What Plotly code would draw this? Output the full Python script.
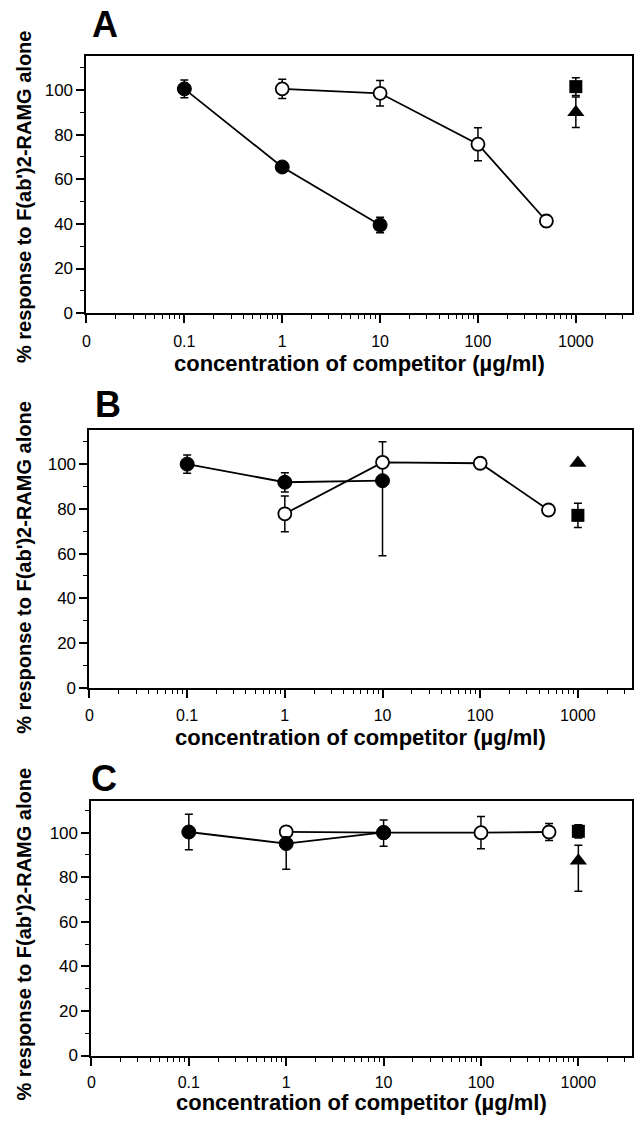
import plotly.graph_objects as go

W, H = 634, 1123

# ---------------- data ----------------
filled_x = [0.1, 1, 10]
open_x = [1, 10, 100, 500]
ctrl_x = [1000]

# Panel A
A_filled_y = [100.5, 65.5, 39.5]
A_filled_err = [4.0, 1.5, 3.5]
A_open_y = [100.5, 98.5, 75.7, 41.3]
A_open_err = [4.3, 5.7, 7.4, 2.5]
A_square_y = [101.5]
A_square_err = [4.0]
A_triangle_y = [90.0]
A_triangle_err = [6.8]

# Panel B
B_filled_y = [100.0, 91.9, 92.6]
B_filled_err_plus = [4.1, 4.3, 2.0]
B_filled_err_minus = [4.1, 4.3, 33.5]
B_open_y = [77.8, 100.8, 100.4, 79.5]
B_open_err = [8.0, 9.2, 1.5, 1.5]
B_square_y = [77.1]
B_square_err = [5.4]
B_triangle_y = [100.5]
B_triangle_err = [0.0]

# Panel C
C_filled_y = [100.3, 95.1, 100.1]
C_filled_err_plus = [8.0, 3.0, 5.6]
C_filled_err_minus = [8.0, 11.5, 6.2]
C_open_y = [100.4, 100.0, 100.0, 100.3]
C_open_err = [0.0, 0.0, 7.2, 3.8]
C_square_y = [100.6]
C_square_err = [3.0]
C_triangle_y = [87.4]
C_triangle_err_plus = [7.0]
C_triangle_err_minus = [13.7]

x_tickvals = [0.01, 0.1, 1, 10, 100, 1000]
x_ticktext = ["0", "0.1", "1", "10", "100", "1000"]
y_tickvals = [0, 20, 40, 60, 80, 100]
y_minor = [10, 30, 50, 70, 90, 110]
x_minor = [m * d for d in [0.01, 0.1, 1, 10, 100] for m in range(2, 10)] + [2000, 3000]

panel_labels = ["A", "B", "C"]
x_title = "concentration of competitor (\u00b5g/ml)"
y_title = "% response to F(ab')2-RAMG alone"

# ---------------- layout geometry (pixels) ----------------
geom = [
    dict(l=83, r=632, t=57, b=316, ymax=115.0, xmax=3.574, lab=(102, 25), yt=198, xt=367, so=5),
    dict(l=86, r=632, t=434, b=694, ymax=115.2, xmax=3.554, lab=(105, 408), yt=572, xt=744, so=4),
    dict(l=88, r=632, t=808, b=1065, ymax=114.3, xmax=3.551, lab=(101, 785), yt=942, xt=1112, so=3),
]

fig = go.Figure()

LW = 1.8
FONT = "Liberation Sans, Arial, Helvetica, sans-serif"


def err(arr, minus=None):
    d = dict(type="data", array=arr, visible=True, color="black", thickness=1.5, width=4)
    if minus is not None:
        d["symmetric"] = False
        d["arrayminus"] = minus
    return d


panels = [
    dict(fy=A_filled_y, fe=err(A_filled_err), oy=A_open_y, oe=err(A_open_err),
         sy=A_square_y, se=err(A_square_err), ty=A_triangle_y, te=err(A_triangle_err)),
    dict(fy=B_filled_y, fe=err(B_filled_err_plus, B_filled_err_minus), oy=B_open_y, oe=err(B_open_err),
         sy=B_square_y, se=err(B_square_err), ty=B_triangle_y, te=err(B_triangle_err)),
    dict(fy=C_filled_y, fe=err(C_filled_err_plus, C_filled_err_minus), oy=C_open_y, oe=err(C_open_err),
         sy=C_square_y, se=err(C_square_err), ty=C_triangle_y, te=err(C_triangle_err_plus, C_triangle_err_minus)),
]

for i, p in enumerate(panels):
    xa = "x" if i == 0 else f"x{i+1}"
    ya = "y" if i == 0 else f"y{i+1}"
    fig.add_trace(go.Scatter(
        x=open_x, y=p["oy"], xaxis=xa, yaxis=ya, mode="lines+markers",
        line=dict(color="black", width=LW),
        marker=dict(symbol="circle", size=13, color="white", line=dict(color="black", width=1.8)),
        error_y=p["oe"], showlegend=False, cliponaxis=False))
    fig.add_trace(go.Scatter(
        x=filled_x, y=p["fy"], xaxis=xa, yaxis=ya, mode="lines+markers",
        line=dict(color="black", width=LW),
        marker=dict(symbol="circle", size=14, color="black", line=dict(color="black", width=1)),
        error_y=p["fe"], showlegend=False, cliponaxis=False))
    fig.add_trace(go.Scatter(
        x=ctrl_x, y=p["ty"], xaxis=xa, yaxis=ya, mode="markers",
        marker=dict(symbol="triangle-up", size=15, color="black"),
        error_y=p["te"], showlegend=False, cliponaxis=False))
    fig.add_trace(go.Scatter(
        x=ctrl_x, y=p["sy"], xaxis=xa, yaxis=ya, mode="markers",
        marker=dict(symbol="square", size=13, color="black"),
        error_y=p["se"], showlegend=False, cliponaxis=False))

layout = dict(
    width=W, height=H, margin=dict(l=0, r=0, t=0, b=0),
    paper_bgcolor="white", plot_bgcolor="white", showlegend=False,
    font=dict(family=FONT, color="black"),
)

annotations = []
for i, g in enumerate(geom):
    xk = "xaxis" if i == 0 else f"xaxis{i+1}"
    yk = "yaxis" if i == 0 else f"yaxis{i+1}"
    ya = "y" if i == 0 else f"y{i+1}"
    xa = "x" if i == 0 else f"x{i+1}"
    layout[xk] = dict(
        type="log", range=[-2, g["xmax"]], domain=[g["l"] / W, g["r"] / W], anchor=ya,
        tickmode="array", tickvals=x_tickvals, ticktext=x_ticktext,
        ticks="outside", ticklen=8, tickwidth=1.5, tickcolor="black",
        ticklabelstandoff=g["so"],
        showline=True, linewidth=2, linecolor="black", mirror=True,
        showgrid=False, zeroline=False, tickfont=dict(size=16, family=FONT, color="black"),
        minor=dict(tickmode="array", tickvals=x_minor, ticks="outside", ticklen=4,
                   tickwidth=1.2, tickcolor="black", showgrid=False),
        fixedrange=True,
    )
    layout[yk] = dict(
        range=[0, g["ymax"]], domain=[1 - g["b"] / H, 1 - g["t"] / H], anchor=xa,
        tickmode="array", tickvals=y_tickvals,
        ticks="outside", ticklen=8, tickwidth=1.5, tickcolor="black",
        showline=True, linewidth=2, linecolor="black", mirror=True,
        showgrid=False, zeroline=False, tickfont=dict(size=17, family=FONT, color="black"),
        minor=dict(tickmode="array", tickvals=y_minor, ticks="outside", ticklen=4,
                   tickwidth=1.2, tickcolor="black", showgrid=False),
        fixedrange=True,
    )
    annotations.append(dict(
        text=f"<b>{panel_labels[i]}</b>", x=g["lab"][0] / W, y=1 - g["lab"][1] / H,
        xref="paper", yref="paper", xanchor="center", yanchor="middle", showarrow=False,
        font=dict(size=36, family=FONT, color="black")))
    annotations.append(dict(
        text=f"<b>{y_title}</b>", x=20 / W, y=1 - g["yt"] / H, textangle=-90,
        xref="paper", yref="paper", xanchor="center", yanchor="middle", showarrow=False,
        font=dict(size=20, family=FONT, color="black")))
    annotations.append(dict(
        text=f"<b>{x_title}</b>", x=(g["l"] + g["r"]) / 2 / W, y=1 - g["xt"] / H,
        xref="paper", yref="paper", xanchor="center", yanchor="middle", showarrow=False,
        font=dict(size=22, family=FONT, color="black")))

layout["annotations"] = annotations
fig.update_layout(**layout)
fig.write_html("out.html")
